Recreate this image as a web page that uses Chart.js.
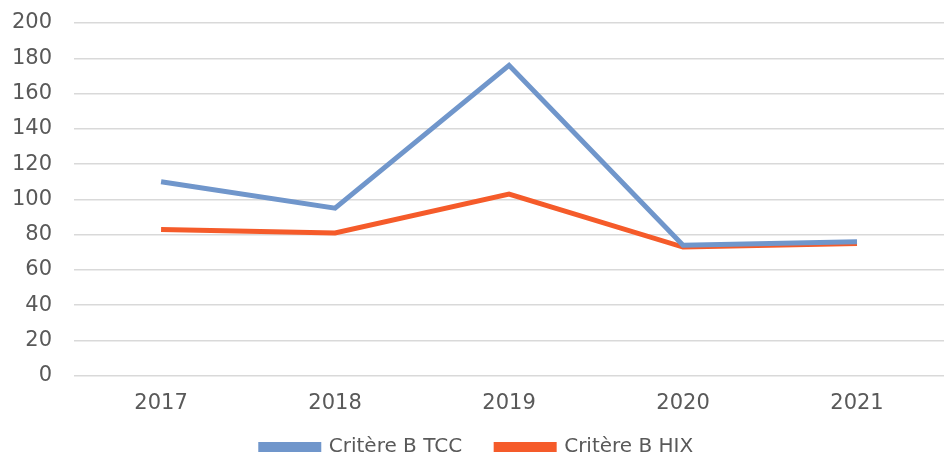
<!DOCTYPE html>
<html>
<head>
<meta charset="utf-8">
<script src="https://cdn.jsdelivr.net/npm/chart.js@4/dist/chart.umd.min.js"></script>
<style>
  html, body { margin: 0; padding: 0; background: #fff; }
  #wrap { width: 944px; height: 458px; }
</style>
</head>
<body>
<div id="wrap"><canvas id="myChart" width="944" height="458"></canvas></div>
<script>
// values
const years = ['2017', '2018', '2019', '2020', '2021']
const tccValues = [110, 95, 176, 74, 76]
const hixValues = [83, 81, 103, 73, 75]
const yTicks = [0, 20, 40, 60, 80, 100, 120, 140, 160, 180, 200]

const blue = '#7096cb'
const orange = '#f55b2a'
const textColor = '#595959'
const fontFace = 'DejaVu Sans'

const ctx = document.getElementById('myChart')
new Chart(ctx, {
  type: 'line',
  data: {
    labels: years,
    datasets: [
      {
        label: 'Critère B TCC',
        data: tccValues,
        borderColor: blue,
        backgroundColor: blue,
        borderWidth: 5,
        pointRadius: 0,
        tension: 0
      },
      {
        label: 'Critère B HIX',
        data: hixValues,
        borderColor: orange,
        backgroundColor: orange,
        borderWidth: 5,
        pointRadius: 0,
        tension: 0
      }
    ]
  },
  options: {
    responsive: false,
    animation: false,
    layout: { padding: { left: 10, right: 0, top: 23, bottom: -9 } },
    plugins: {
      tooltip: { enabled: false },
      legend: {
        position: 'bottom',
        labels: {
          boxWidth: 58,
          boxHeight: 5,
          color: textColor,
          font: { family: fontFace, size: 20 },
          padding: 14,
          // wider gap between the two entries, like the original
          generateLabels: chart => {
            const items = Chart.defaults.plugins.legend.labels.generateLabels(chart)
            items.forEach((item, i) => {
              if (i < items.length - 1) item.text += '\u2002\u2002'
            })
            return items
          }
        }
      }
    },
    scales: {
      x: {
        offset: true,
        grid: { display: false },
        border: { display: false },
        ticks: {
          color: textColor,
          font: { family: fontFace, size: 21 },
          padding: 7
        }
      },
      y: {
        min: 0,
        max: 200,
        afterBuildTicks: axis => {
          axis.ticks = yTicks.map(v => ({ value: v }))
        },
        grid: { color: '#d9d9d9', lineWidth: 1.5, tickLength: 20, tickColor: 'transparent' },
        border: { display: false },
        ticks: {
          color: textColor,
          font: { family: fontFace, size: 21 },
          padding: 2
        }
      }
    }
  }
})
</script>
</body>
</html>
